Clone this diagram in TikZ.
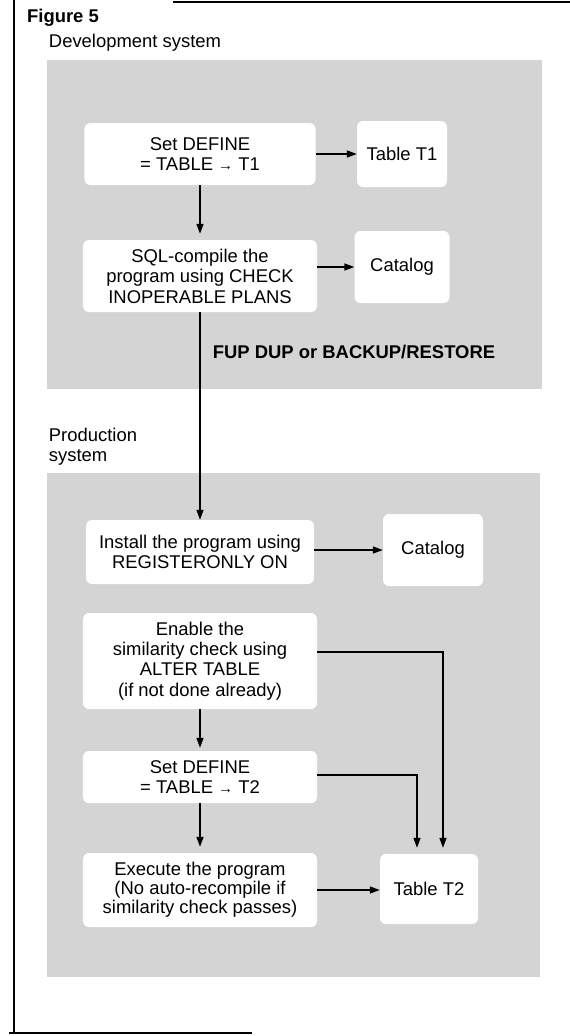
\documentclass[tikz,border=0pt]{standalone}
\usepackage{fontspec}
\setmainfont{Liberation Sans}
\usetikzlibrary{arrows.meta}
\newcommand\smallarr{{\fontsize{15}{15}\selectfont\raisebox{0.5bp}{→}}}
\begin{document}
\begin{tikzpicture}[x=1bp,y=-1bp,
  txt/.style={font=\fontsize{18.5}{20.5}\selectfont},
  wbox/.style={txt, fill=white, rounded corners=6bp, align=center, inner sep=0pt},
  lbl/.style={txt, align=left, inner sep=0pt},
  arr/.style={-{Triangle[length=10bp,width=7bp]}, line width=1.5bp},
  shadezone/.style={fill=black!17, draw=none},
  frameline/.style={line width=2bp}]
\useasboundingbox (0,0) rectangle (570,1036);
\fill[white] (0,0) rectangle (570,1036);
% frame
\draw[frameline] (14,0) -- (14,1033);
\draw[frameline] (9,1033) -- (252,1033);
\draw[frameline] (173,1.5) -- (570,1.5);
% shaded zones
\fill[shadezone] (47,60) rectangle (542,389);
\fill[shadezone] (47,473) rectangle (540,977);
% labels
\node[lbl, font=\bfseries\fontsize{18.5}{20.5}\selectfont] (fig) at (63,18) {Figure 5};
\node[lbl] (dev) at (135,43) {Development system};
\node[lbl] (prod) at (93,447) {Production\\system};
\node[lbl, font=\bfseries\fontsize{18.5}{20.5}\selectfont] (fup) at (354,352) {FUP DUP or BACKUP/RESTORE};
% development nodes
\node[wbox, minimum width=231bp, minimum height=62bp] (def1) at (200,154) {Set DEFINE\\= TABLE \smallarr\ T1};
\node[wbox, minimum width=90bp, minimum height=66bp] (t1) at (402,154) {Table T1};
\node[wbox, minimum width=234bp, minimum height=72bp] (sql) at (200,276) {SQL-compile the\\program using CHECK\\INOPERABLE PLANS};
\node[wbox, minimum width=95bp, minimum height=72bp] (cat1) at (402,267) {Catalog};
% production nodes
\node[wbox, minimum width=228bp, minimum height=64bp] (inst) at (200,552) {Install the program using\\REGISTERONLY ON};
\node[wbox, minimum width=100bp, minimum height=72bp] (cat2) at (433,550) {Catalog};
\node[wbox, minimum width=234bp, minimum height=96bp] (enab) at (200,661) {Enable the\\similarity check using\\ALTER TABLE\\(if not done already)};
\node[wbox, minimum width=234bp, minimum height=52bp] (def2) at (200,777) {Set DEFINE\\= TABLE \smallarr\ T2};
\node[wbox, minimum width=234bp, minimum height=74bp, font=\fontsize{18.5}{19}\selectfont] (exec) at (200,890) {Execute the program\\(No auto-recompile if\\similarity check passes)};
\node[wbox, minimum width=98bp, minimum height=70bp] (t2) at (429,889) {Table T2};
% connectors
\draw[arr] (def1) -- (t1);
\draw[arr] (sql.east |- cat1.west) -- (cat1.west);
\draw[arr, shorten >=6bp] (def1.south) -- (sql.north);
\draw[arr] (sql.south) -- (inst.north);
\draw[arr] (inst.east |- cat2.west) -- (cat2.west);
\draw[arr, shorten >=3bp] (enab.south) -- (def2.north);
\draw[arr, shorten >=6bp] (def2.south) -- (exec.north);
\draw[arr, shorten >=6bp] ([yshift=9bp]enab.east) -| ([xshift=14bp]t2.north);
\draw[arr, shorten >=6bp] ([yshift=2bp]def2.east) -| ([xshift=-12bp]t2.north);
\draw[arr] (exec.east) -- (exec.east -| t2.west);
\end{tikzpicture}
\end{document}
